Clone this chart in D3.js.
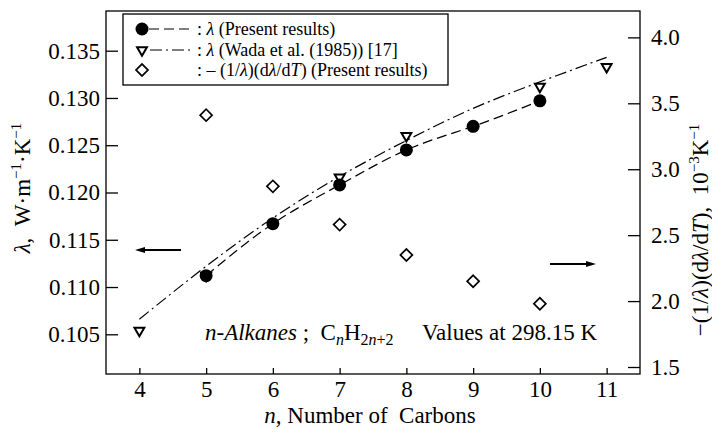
<!DOCTYPE html>
<html>
<head>
<meta charset="utf-8">
<script src="https://cdnjs.cloudflare.com/ajax/libs/d3/7.8.5/d3.min.js"></script>
<style>
  body { margin: 0; background: #fff; }
  svg text { fill: #000; white-space: pre; }
</style>
</head>
<body>
<div id="chart"></div>
<script>
const width = 712;
const height = 435;
const serif = '"Times New Roman", Times, "Liberation Serif", "DejaVu Serif", serif';

// data
const nPresent = [5, 6, 7, 8, 9, 10];
const lamPresent = [0.1112, 0.1167, 0.1208, 0.1245, 0.1270, 0.1297];
const nWada = [4, 5, 7, 8, 10, 11];
const lamWada = [0.1054, 0.1112, 0.1216, 0.1260, 0.1312, 0.1333];
const nWadaFit = [4, 5, 6, 7, 8, 9, 10, 11];
const lamWadaFit = [0.1066, 0.1122, 0.1173, 0.1217, 0.1255, 0.1289, 0.1317, 0.1343];
const nSlope = [5, 6, 7, 8, 9, 10];
const slopeVals = [3.41, 2.87, 2.58, 2.35, 2.15, 1.98];
const xTicks = [4, 5, 6, 7, 8, 9, 10, 11];
const yLeftTicks = [0.105, 0.110, 0.115, 0.120, 0.125, 0.130, 0.135];
const yRightTicks = [1.5, 2.0, 2.5, 3.0, 3.5, 4.0];

const pLeft = 106, pRight = 640, pTop = 11, pBottom = 374;

const x = d3.scaleLinear().domain([3.5, 11.5]).range([pLeft, pRight]);
const yL = d3.scaleLinear().domain([0.1008, 0.1392]).range([pBottom, pTop]);
const yR = d3.scaleLinear().domain([1.447, 4.2]).range([pBottom, pTop]);

const svg = d3.select("#chart")
  .append("svg")
  .attr("width", width)
  .attr("height", height)
  .style("font-family", serif);

// frame
svg.append("rect")
  .attr("x", pLeft).attr("y", pTop)
  .attr("width", pRight - pLeft).attr("height", pBottom - pTop)
  .attr("fill", "none").attr("stroke", "#000").attr("stroke-width", 1.3);

// axes (inward ticks)
const axisLeft = d3.axisLeft(yL).tickValues(yLeftTicks).tickFormat(d3.format(".3f"))
  .tickSize(-12).tickPadding(6);
const axisRight = d3.axisRight(yR).tickValues(yRightTicks).tickFormat(d3.format(".1f"))
  .tickSize(-12).tickPadding(11);
const axisBottom = d3.axisBottom(x).tickValues(xTicks).tickFormat(d3.format("d"))
  .tickSize(-6).tickPadding(7);

function styleAxis(g) {
  g.attr("font-family", null).attr("font-size", 23);
  g.select(".domain").remove();
  g.selectAll("line").attr("stroke", "#000").attr("stroke-width", 1.3);
  g.selectAll("text").attr("fill", "#000");
}

svg.append("g").attr("transform", `translate(${pLeft},0)`).call(axisLeft).call(styleAxis);
svg.append("g").attr("transform", `translate(${pRight},0)`).call(axisRight).call(styleAxis);
svg.append("g").attr("transform", `translate(0,${pBottom})`).call(axisBottom).call(styleAxis);

// lines
const present = nPresent.map((n, i) => ({n: n, v: lamPresent[i]}));
const wada = nWada.map((n, i) => ({n: n, v: lamWada[i]}));
const wadaFit = nWadaFit.map((n, i) => ({n: n, v: lamWadaFit[i]}));
const slope = nSlope.map((n, i) => ({n: n, v: slopeVals[i]}));

const lineL = d3.line().x(d => x(d.n)).y(d => yL(d.v)).curve(d3.curveNatural);

svg.append("path")
  .datum(wadaFit)
  .attr("d", lineL)
  .attr("fill", "none").attr("stroke", "#000").attr("stroke-width", 1.2)
  .attr("stroke-dasharray", "12,4,2,4");

svg.append("path")
  .datum(present)
  .attr("d", lineL)
  .attr("fill", "none").attr("stroke", "#000").attr("stroke-width", 1.2)
  .attr("stroke-dasharray", "10,5");

// markers
const triPath = d3.symbol(d3.symbolTriangle).size(42)();
const diaPath = d3.symbol(d3.symbolSquare).size(72)();

svg.append("g").selectAll("path")
  .data(wada)
  .enter()
  .append("path")
  .attr("d", triPath)
  .attr("transform", d => `translate(${x(d.n)},${yL(d.v)}) rotate(180)`)
  .attr("fill", "#fff").attr("stroke", "#000").attr("stroke-width", 2);

svg.append("g").selectAll("circle")
  .data(present)
  .enter()
  .append("circle")
  .attr("cx", d => x(d.n))
  .attr("cy", d => yL(d.v))
  .attr("r", 6.5)
  .attr("fill", "#000");

svg.append("g").selectAll("path")
  .data(slope)
  .enter()
  .append("path")
  .attr("d", diaPath)
  .attr("transform", d => `translate(${x(d.n)},${yR(d.v)}) rotate(45)`)
  .attr("fill", "#fff").attr("stroke", "#000").attr("stroke-width", 1.7);

// arrows
function arrow(x1, x2, y) {
  const dir = x2 > x1 ? 1 : -1;
  svg.append("line")
    .attr("x1", x1).attr("x2", x2 - dir * 6).attr("y1", y).attr("y2", y)
    .attr("stroke", "#000").attr("stroke-width", 1.8);
  svg.append("path")
    .attr("d", `M${x2},${y} L${x2 - dir * 10},${y - 3} L${x2 - dir * 10},${y + 3} Z`)
    .attr("fill", "#000");
}
arrow(181, 135, 250);
arrow(550, 596, 264);

// legend
svg.append("rect")
  .attr("x", 123).attr("y", 14).attr("width", 325).attr("height", 71)
  .attr("fill", "#fff").attr("stroke", "#000").attr("stroke-width", 1.3);

const legY = [29, 50, 70];
svg.append("circle").attr("cx", 142).attr("cy", legY[0]).attr("r", 6.5).attr("fill", "#000");
svg.append("line").attr("x1", 149).attr("x2", 192).attr("y1", legY[0]).attr("y2", legY[0])
  .attr("stroke", "#000").attr("stroke-width", 1.2).attr("stroke-dasharray", "10,5");
svg.append("path").attr("d", triPath)
  .attr("transform", `translate(142,${legY[1]}) rotate(180)`)
  .attr("fill", "#fff").attr("stroke", "#000").attr("stroke-width", 2);
svg.append("line").attr("x1", 150).attr("x2", 192).attr("y1", legY[1]).attr("y2", legY[1])
  .attr("stroke", "#000").attr("stroke-width", 1.2).attr("stroke-dasharray", "12,4,2,4");
svg.append("path").attr("d", diaPath)
  .attr("transform", `translate(142,${legY[2]}) rotate(45)`)
  .attr("fill", "#fff").attr("stroke", "#000").attr("stroke-width", 1.7);

const leg1 = svg.append("text").attr("x", 197).attr("y", legY[0] + 6).attr("font-size", 18);
leg1.append("tspan").text(": ");
leg1.append("tspan").attr("font-style", "italic").text("λ");
leg1.append("tspan").text(" (Present results)");

const leg2 = svg.append("text").attr("x", 197).attr("y", legY[1] + 6).attr("font-size", 18);
leg2.append("tspan").text(": ");
leg2.append("tspan").attr("font-style", "italic").text("λ");
leg2.append("tspan").text(" (Wada et al. (1985)) [17]");

const leg3 = svg.append("text").attr("x", 197).attr("y", legY[2] + 6).attr("font-size", 18);
leg3.append("tspan").text(": – (1/");
leg3.append("tspan").attr("font-style", "italic").text("λ");
leg3.append("tspan").text(")(d");
leg3.append("tspan").attr("font-style", "italic").text("λ");
leg3.append("tspan").text("/d");
leg3.append("tspan").attr("font-style", "italic").text("T");
leg3.append("tspan").text(") (Present results)");

// annotations
const ann = svg.append("text").attr("x", 205).attr("y", 340).attr("font-size", 23);
ann.append("tspan").attr("font-style", "italic").text("n-Alkanes");
ann.append("tspan").text(" ;  C");
ann.append("tspan").attr("font-style", "italic").attr("font-size", 16).attr("dy", 5).text("n");
ann.append("tspan").attr("dy", -5).text("H");
ann.append("tspan").attr("font-size", 16).attr("dy", 5).text("2");
ann.append("tspan").attr("font-style", "italic").attr("font-size", 16).text("n");
ann.append("tspan").attr("font-size", 16).text("+2");

svg.append("text").attr("x", 422).attr("y", 340).attr("font-size", 23).text("Values at 298.15 K");

// axis titles
const xt = svg.append("text").attr("x", 370).attr("y", 423).attr("font-size", 23)
  .attr("text-anchor", "middle");
xt.append("tspan").attr("font-style", "italic").text("n");
xt.append("tspan").text(", Number of  Carbons");

const ylt = svg.append("text")
  .attr("transform", "translate(30,188) rotate(-90)")
  .attr("text-anchor", "middle").attr("font-size", 23);
ylt.append("tspan").attr("font-style", "italic").text("λ");
ylt.append("tspan").text(",  W·m");
ylt.append("tspan").attr("font-size", 15).attr("dy", -9).text("−1");
ylt.append("tspan").attr("dy", 9).text("·K");
ylt.append("tspan").attr("font-size", 15).attr("dy", -9).text("−1");

const yrt = svg.append("text")
  .attr("transform", "translate(708,230) rotate(-90)")
  .attr("text-anchor", "middle").attr("font-size", 23);
yrt.append("tspan").text("−(1/");
yrt.append("tspan").attr("font-style", "italic").text("λ");
yrt.append("tspan").text(")(d");
yrt.append("tspan").attr("font-style", "italic").text("λ");
yrt.append("tspan").text("/d");
yrt.append("tspan").attr("font-style", "italic").text("T");
yrt.append("tspan").text("),  10");
yrt.append("tspan").attr("font-size", 15).attr("dy", -9).text("−3");
yrt.append("tspan").attr("dy", 9).text("K");
yrt.append("tspan").attr("font-size", 15).attr("dy", -9).text("−1");
</script>
</body>
</html>
